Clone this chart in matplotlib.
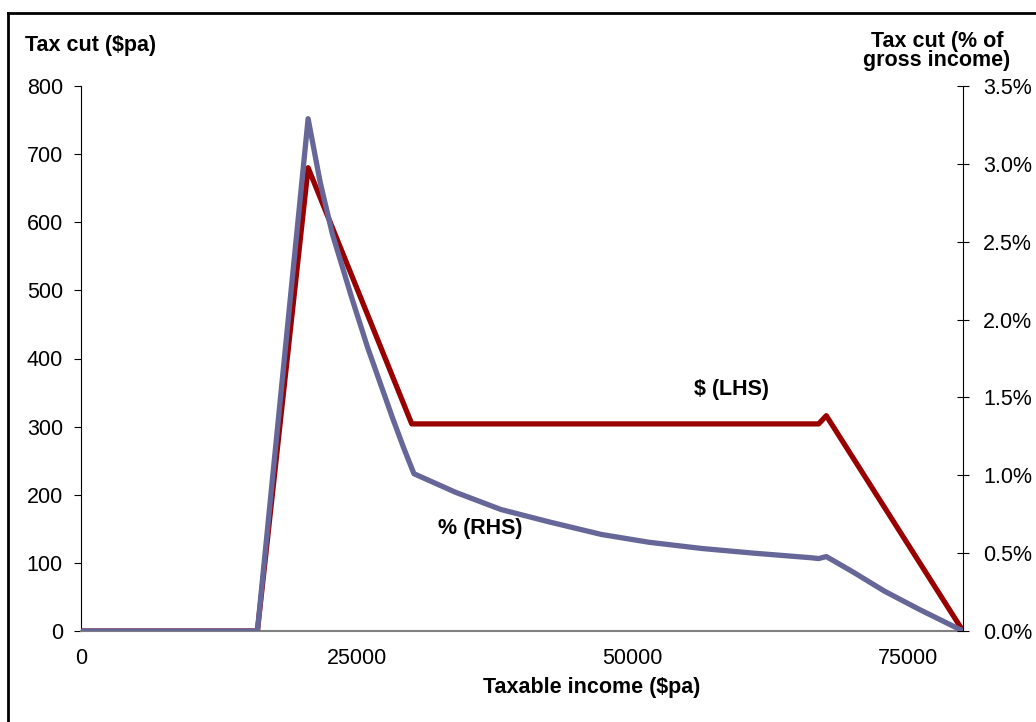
import matplotlib
matplotlib.use("Agg")
import matplotlib.pyplot as plt
from matplotlib.lines import Line2D
from matplotlib.ticker import FuncFormatter

plt.rcParams['font.family'] = ['Liberation Sans', 'DejaVu Sans']

# Data
income_dollars = [0, 16000, 20600, 30000, 66900, 67600, 80000]
tax_cut_dollars = [0, 0, 680, 304, 304, 316, 0]

income_pct = [0, 16000, 20600, 21700, 22800, 24600, 26000, 27200, 28300, 29300, 30200,
              34000, 38100, 42500, 47200, 51500, 56300, 61000, 66300, 66900,
              67600, 70000, 72900, 76000, 80000]
tax_cut_pct = [0.0, 0.0, 3.29, 2.88, 2.55, 2.13, 1.82, 1.58, 1.36, 1.17, 1.01,
               0.89, 0.78, 0.70, 0.62, 0.57, 0.53, 0.50, 0.47, 0.465,
               0.478, 0.38, 0.255, 0.14, 0.0]

left_ticks = [0, 100, 200, 300, 400, 500, 600, 700, 800]
right_ticks = [0.0, 0.5, 1.0, 1.5, 2.0, 2.5, 3.0, 3.5]
x_ticks = [0, 25000, 50000, 75000]

RED = '#990000'
BLUE = '#666699'
FS = 15.5

fig = plt.figure(figsize=(10.36, 7.22), dpi=100)
ax = fig.add_axes([81/1036, 1-631/722, (963-81)/1036, (631-86)/722])
ax2 = ax.twinx()

ax.plot(income_dollars, tax_cut_dollars, color=RED, lw=3.8, solid_joinstyle='round', zorder=2)
ax2.plot(income_pct, tax_cut_pct, color=BLUE, lw=3.8, solid_joinstyle='round', zorder=3)

ax.set_xlim(0, 80000)
ax.set_ylim(0, 800)
ax2.set_ylim(0, 3.5)

ax.set_yticks(left_ticks)
ax2.set_yticks(right_ticks)
ax2.yaxis.set_major_formatter(FuncFormatter(lambda v, p: f"{v:.1f}%"))
ax.set_xticks(x_ticks)

for a in (ax, ax2):
    a.spines['top'].set_visible(False)
ax.spines['right'].set_visible(False)
ax2.spines['left'].set_visible(False)
ax2.spines['bottom'].set_visible(False)
ax.spines['left'].set_color('#000000')
ax.spines['left'].set_linewidth(0.8)
ax2.spines['right'].set_color('#000000')
ax2.spines['right'].set_linewidth(0.8)
ax.spines['bottom'].set_color('#808080')
ax.spines['bottom'].set_linewidth(1.5)

ax.tick_params(axis='y', direction='out', length=5, width=0.8, pad=8, labelsize=FS, colors='#000000')
ax.tick_params(axis='x', length=0, pad=12, labelsize=FS, colors='#000000')
ax2.tick_params(axis='y', direction='inout', length=9, width=0.8, pad=10, labelsize=FS, colors='#000000')

fig.text(25/1036, 1-45/722, 'Tax cut ($pa)', fontsize=FS, fontweight='bold', ha='left', va='center')
fig.text(937/1036, 1-51/722, 'Tax cut (% of\ngross income)', fontsize=FS, fontweight='bold',
         ha='center', va='center', linespacing=0.92)
fig.text(592/1036, 1-688/722, 'Taxable income ($pa)', fontsize=FS, fontweight='bold', ha='center', va='center')

ax.text(59000, 354, '$ (LHS)', fontsize=FS, fontweight='bold', ha='center', va='center')
ax.text(36200, 150, '% (RHS)', fontsize=FS, fontweight='bold', ha='center', va='center')

# outer frame (top and left edges)
fig.add_artist(Line2D([8/1036, 8/1036], [0, 1-13/722], color='black', lw=2, transform=fig.transFigure))
fig.add_artist(Line2D([8/1036, 1], [1-13/722, 1-13/722], color='black', lw=2, transform=fig.transFigure))

fig.savefig('out.png', dpi=100)
